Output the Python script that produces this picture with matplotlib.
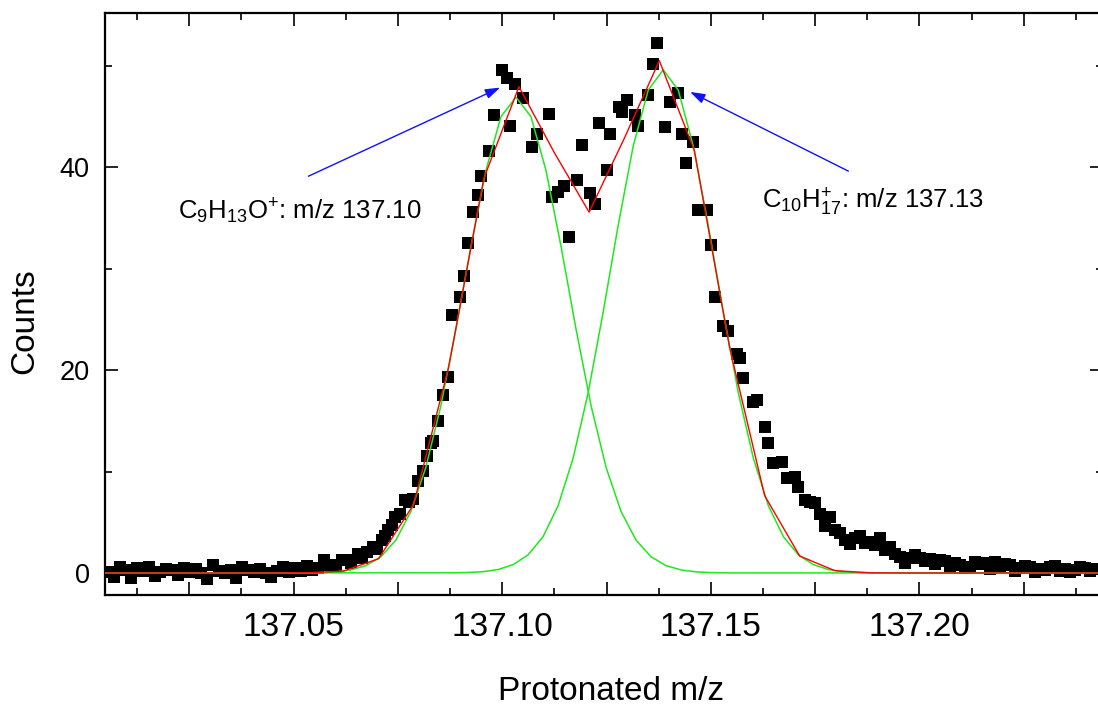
import matplotlib
matplotlib.use("Agg")
import matplotlib.pyplot as plt
from matplotlib.ticker import MultipleLocator

plt.rcParams['font.family'] = ['Liberation Sans', 'DejaVu Sans']
plt.rcParams['mathtext.fontset'] = 'custom'
plt.rcParams['mathtext.rm'] = 'Liberation Sans'
plt.rcParams['mathtext.it'] = 'Liberation Sans:italic'
plt.rcParams['mathtext.bf'] = 'Liberation Sans:bold'

# ---------------- data ----------------
mz_data = [
    137.0055, 137.0069, 137.0083, 137.0097, 137.0111, 137.0125, 137.0139, 137.0153, 137.0167, 137.0181,
    137.0195, 137.0209, 137.0223, 137.0237, 137.0251, 137.0265, 137.0279, 137.0293, 137.0307, 137.0321,
    137.0335, 137.0349, 137.0363, 137.0377, 137.0391, 137.0405, 137.0419, 137.0433, 137.0447, 137.0461,
    137.0475, 137.0489, 137.0503, 137.0517, 137.0531, 137.0545, 137.0559, 137.0573, 137.0587, 137.0601,
    137.0615,
    137.0628, 137.0638, 137.0655, 137.0664, 137.0675, 137.0691, 137.0700, 137.0711, 137.0719, 137.0727,
    137.0736, 137.0743, 137.0755, 137.0767, 137.0777, 137.0787, 137.0799, 137.0810, 137.0819, 137.0829,
    137.0835, 137.0846, 137.0859, 137.0871, 137.0879, 137.0900, 137.0909, 137.0919, 137.0930, 137.0941,
    137.0949, 137.0969, 137.0981, 137.0999, 137.1011, 137.1019, 137.1031, 137.1051,
    137.1071, 137.1083, 137.1111, 137.1120, 137.1134, 137.1147, 137.1159, 137.1179, 137.1191, 137.1211,
    137.1223, 137.1233, 137.1251, 137.1259, 137.1279, 137.1287, 137.1299, 137.1319, 137.1326, 137.1350,
    137.1362, 137.1371,
    137.1390, 137.1401, 137.1421, 137.1430, 137.1441, 137.1458, 137.1470, 137.1490, 137.1500, 137.1510,
    137.1530, 137.1542, 137.1562, 137.1570, 137.1578, 137.1602, 137.1610, 137.1630, 137.1638, 137.1650,
    137.1670, 137.1682, 137.1702, 137.1710, 137.1726, 137.1738, 137.1750, 137.1762, 137.1774, 137.1786,
    137.1798, 137.1810, 137.1822, 137.1834, 137.1846, 137.1858, 137.1870, 137.1882, 137.1894, 137.1906,
    137.1918, 137.1930, 137.1942, 137.1954, 137.1966, 137.1978, 137.1990, 137.2002, 137.2014, 137.2026,
    137.2038, 137.2050, 137.2062, 137.2074, 137.2086, 137.2098, 137.2110, 137.2122, 137.2134, 137.2146,
    137.2158, 137.2170, 137.2182, 137.2194, 137.2206, 137.2218, 137.2230, 137.2242, 137.2254, 137.2266,
    137.2278, 137.2290, 137.2302, 137.2314, 137.2326, 137.2338, 137.2350, 137.2362, 137.2374, 137.2386,
    137.2398, 137.2410, 137.2422,
]
counts_data = [
    0.1, -0.4, 0.6, 0.3, -0.5, 0.5, 0.2, 0.6, -0.3, 0.1,
    0.4, 0.3, -0.2, 0.5, 0.1, 0.4, 0.0, -0.6, 0.8, 0.2,
    0.0, 0.3, -0.5, 0.6, 0.3, 0.1, 0.4, 0.0, -0.4, 0.2,
    0.6, 0.1, 0.5, 0.2, 0.7, 0.3, 0.5, 1.3, 0.8, 0.6,
    1.3,
    1.3, 1.0, 1.9, 1.5, 2.1, 2.6, 2.4, 3.3, 3.6, 4.2,
    4.7, 5.5, 5.8, 7.2, 7.0, 7.3, 9.1, 10.1, 11.5, 12.8,
    13.0, 15.0, 17.5, 19.3, 25.4, 27.2, 29.3, 32.5, 35.6, 37.3,
    39.1, 41.6, 45.1, 49.6, 48.8, 44.1, 48.2, 46.8,
    42.0, 43.3, 45.2, 37.1, 37.6, 38.1, 33.1, 38.7, 42.2, 37.5,
    36.4, 44.4, 39.7, 43.3, 45.9, 45.4, 46.6, 45.1, 44.1, 47.1,
    50.2, 52.2,
    44.0, 46.4, 47.3, 43.3, 40.4, 42.5, 35.8, 35.8, 32.3, 27.2,
    24.3, 23.9, 21.6, 21.2, 19.2, 16.9, 17.1, 14.4, 12.8, 10.8,
    10.9, 9.4, 9.5, 8.5, 7.2, 7.0, 6.9, 5.8, 4.6, 5.5,
    4.2, 3.9, 3.3, 2.9, 3.4, 3.6, 3.0, 3.1, 2.8, 3.4,
    2.3, 2.6, 1.9, 1.6, 1.0, 1.5, 1.8, 1.5, 1.2, 1.4,
    0.9, 1.3, 1.2, 0.7, 1.0, 0.8, 0.5, 0.6, 1.1, 0.9,
    1.0, 0.4, 1.1, 0.7, 0.9, 0.8, 0.2, 0.5, 0.7, 0.6,
    0.1, 0.4, 0.3, 0.6, 0.7, 0.2, 0.4, 0.1, 0.3, 0.6,
    0.5, 0.2, 0.4,
]

# fitted component 1 (C9H13O+), green
mz_fit1 = [137.0000, 137.0529, 137.0565, 137.0601, 137.0637, 137.0673, 137.0709, 137.0745, 137.0781,
           137.0817, 137.0853, 137.0889, 137.0925, 137.0961, 137.0997, 137.1033, 137.1069, 137.1105,
           137.1141, 137.1177, 137.1213, 137.1249, 137.1285, 137.1321, 137.1357, 137.1393, 137.1429,
           137.1465, 137.1501, 137.1537, 137.2500]
counts_fit1 = [0.0, 0.01, 0.04, 0.11, 0.30, 0.72, 1.59, 3.23, 6.05, 10.41, 16.49, 24.03, 32.19, 39.68,
               44.98, 46.9, 44.98, 39.68, 32.19, 24.03, 16.49, 10.41, 6.05, 3.23, 1.59, 0.72, 0.30,
               0.11, 0.04, 0.01, 0.0]

# fitted component 2 (C10H17+), green
mz_fit2 = [137.0000, 137.0882, 137.0918, 137.0954, 137.0990, 137.1026, 137.1062, 137.1098, 137.1134,
           137.1170, 137.1206, 137.1242, 137.1278, 137.1314, 137.1350, 137.1386, 137.1422, 137.1458,
           137.1494, 137.1530, 137.1566, 137.1602, 137.1638, 137.1674, 137.1710, 137.1746, 137.1782,
           137.1818, 137.1854, 137.1890, 137.2500]
counts_fit2 = [0.0, 0.02, 0.05, 0.13, 0.34, 0.82, 1.78, 3.58, 6.63, 11.31, 17.76, 25.71, 34.27, 42.08,
               47.60, 49.6, 47.60, 42.08, 34.27, 25.71, 17.76, 11.31, 6.63, 3.58, 1.78, 0.82, 0.34,
               0.13, 0.05, 0.02, 0.0]

# cumulative fit, red
mz_sum = [137.00305, 137.01146, 137.01988, 137.02829, 137.03670, 137.04511, 137.05353, 137.06194,
          137.07035, 137.07877, 137.08718, 137.09559, 137.10401, 137.11242, 137.12083, 137.12925,
          137.13766, 137.14607, 137.15448, 137.16290, 137.17131, 137.17972, 137.18814, 137.19655,
          137.20496, 137.21338, 137.22179, 137.23020, 137.23862, 137.24703]
counts_sum = [0.0, 0.0, 0.0, 0.0, 0.0, 0.0, 0.02, 0.19, 1.40, 6.75, 20.31, 38.88, 47.94, 41.49, 35.57,
              42.83, 50.50, 41.63, 22.27, 7.63, 1.67, 0.23, 0.02, 0.0, 0.0, 0.0, 0.0, 0.0, 0.0, 0.0]

xtick_values = [137.025, 137.05, 137.075, 137.10, 137.125, 137.15, 137.175, 137.20, 137.225]
xtick_labels = ['', '137.05', '', '137.10', '', '137.15', '', '137.20', '']
ytick_values = [0, 20, 40]
ytick_labels = ['0', '20', '40']

label1 = r'C$_9$H$_{13}$O$^{+}$: m/z 137.10'
label2 = r'C$_{10}$H$_{17}^{+}$: m/z 137.13'
label1_pos = (137.0223, 34.9)
label2_pos = (137.1623, 35.9)
arrow1_tail, arrow1_head = (137.05355, 39.11), (137.09950, 47.85)
arrow2_tail, arrow2_head = (137.18298, 39.61), (137.14504, 47.42)

# ---------------- figure ----------------
W, H = 1098, 710
fig = plt.figure(figsize=(W / 100, H / 100), dpi=100)
ax_left, ax_right, ax_top, ax_bottom = 105, 1103, 12.7, 595
ax = fig.add_axes([ax_left / W, 1 - ax_bottom / H, (ax_right - ax_left) / W, (ax_bottom - ax_top) / H])

ax.plot(mz_data, counts_data, linestyle='none', marker='s', markersize=9.3,
        color='black', markeredgewidth=0, zorder=2)
ax.plot(mz_fit1, counts_fit1, color='#1ee81e', lw=1.1, zorder=3)
ax.plot(mz_fit2, counts_fit2, color='#1ee81e', lw=1.1, zorder=3)
ax.plot(mz_sum, counts_sum, color='#ff0000', lw=1.0, zorder=4)

ax.set_xlim(137.0048, 137.2440)
ax.set_ylim(-2.17, 55.23)

ax.set_xticks(xtick_values, labels=xtick_labels)
ax.xaxis.set_minor_locator(MultipleLocator(0.0125))
ax.set_yticks(ytick_values, labels=ytick_labels)
ax.yaxis.set_minor_locator(MultipleLocator(10))

ax.tick_params(which='both', direction='in', top=True, right=True, width=1.2, color='black')
ax.tick_params(which='major', length=9.5)
ax.tick_params(which='minor', length=5)
ax.tick_params(axis='x', which='major', labelsize=24, pad=12)
ax.tick_params(axis='y', which='major', labelsize=19.5, pad=11)
for s in ax.spines.values():
    s.set_linewidth(1.6)

ax_w = ax_right - ax_left
ax_h = ax_bottom - ax_top
ax.set_xlabel('Protonated m/z', fontsize=24)
ax.set_ylabel('Counts', fontsize=24)
ax.xaxis.set_label_coords((610.5 - ax_left) / ax_w, (ax_bottom - 700.5) / ax_h)
ax.xaxis.label.set_va('baseline')
ax.yaxis.set_label_coords((24.5 - ax_left) / ax_w, (ax_bottom - 321) / ax_h)
ax.yaxis.label.set_va('center')

ax.text(label1_pos[0], label1_pos[1], label1, fontsize=18.5, ha='left', va='baseline')
ax.text(label2_pos[0], label2_pos[1], label2, fontsize=18.5, ha='left', va='baseline')

arrowprops = dict(arrowstyle='-|>,head_length=0.9,head_width=0.3', color='#1010ff', lw=1.0,
                  shrinkA=0, shrinkB=0)
ax.annotate('', xy=arrow1_head, xytext=arrow1_tail, arrowprops=arrowprops)
ax.annotate('', xy=arrow2_head, xytext=arrow2_tail, arrowprops=arrowprops)

fig.savefig('out.png', dpi=100)
